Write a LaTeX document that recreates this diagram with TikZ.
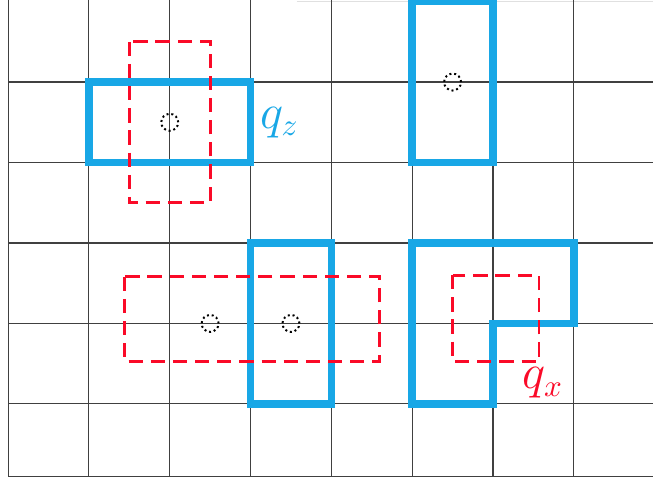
\documentclass[tikz,border=0pt]{standalone}
\usepackage{amsmath,amssymb}
\usepackage{tikz}
\usetikzlibrary{positioning}
\usepackage{xcolor}
\definecolor{stabblue}{RGB}{24,167,230}
\definecolor{supred}{RGB}{250,10,40}

\begin{document}
\begin{tikzpicture}[x=1cm, y=-0.9955cm,
    gridline/.style={black!75, line width=0.4pt},
    stab/.style={stabblue, line width=2.7pt},
    support/.style={supred, line width=1pt, dash pattern=on 5pt off 2.8pt},
    qubit/.style={circle, draw=black, densely dotted, line width=0.7pt, minimum size=0.21cm, inner sep=0pt}]
  \useasboundingbox (-0.1,-0.02) rectangle (7.98,5.96);
  % lattice
  \draw[black!12] (3.57,0) -- (7.98,0);
  \foreach \i in {1,...,5}
    \draw[gridline] (0,\i) -- (7.98,\i);
  \foreach \i in {0,...,7}
    \draw[gridline] (\i,-0.02) -- (\i,5.9);
  \draw[gridline] (0,5.9) -- (7.98,5.9);
  % stabilizers
  \draw[stab] (1,1) rectangle (3,2);
  \draw[stab] (5,0) rectangle (6,2);
  \draw[stab] (3,3) rectangle (4,5);
  \draw[stab] (5,3) -- (7,3) -- (7,4) -- (6,4) -- (6,5) -- (5,5) -- cycle;
  % qubits
  \foreach \x/\y [count=\k] in {2/1.5, 5.5/1, 2.5/4, 3.5/4}
    \node[qubit] (q\k) at (\x,\y) {};
  % supports
  \draw[support] (1.5,0.5) rectangle (2.5,2.5);
  \draw[support] (1.44,3.42) rectangle (4.6,4.47);
  \draw[support] (5.5,3.4) rectangle (6.57,4.47);
  \node[text=stabblue, font=\fontsize{16}{19}\selectfont] (qz) at (3.36,1.5) {$q_z$};
  \node[text=supred, font=\fontsize{16}{19}\selectfont] (qx) at (6.62,4.74) {$q_x$};
\end{tikzpicture}
\end{document}
